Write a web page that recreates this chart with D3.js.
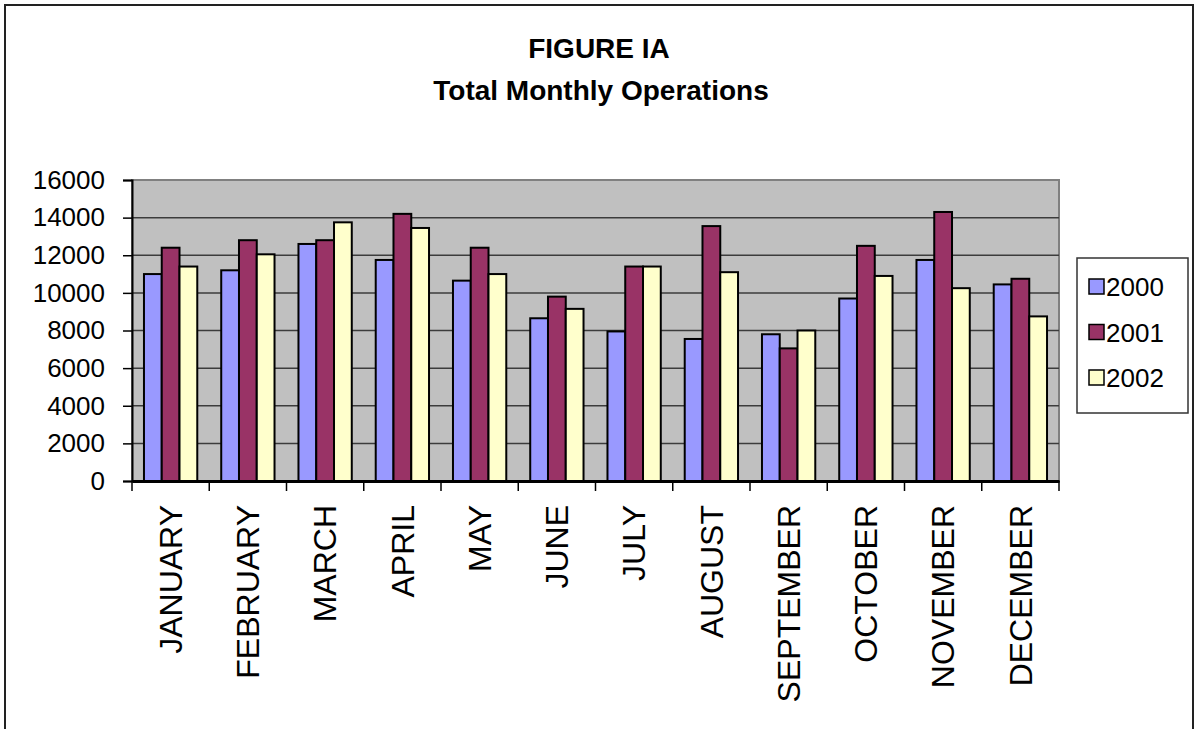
<!DOCTYPE html>
<html>
<head>
<meta charset="utf-8">
<script src="https://cdn.jsdelivr.net/npm/d3@7"></script>
<style>
  body { margin: 0; background: #fff; }
  text { font-family: "Liberation Sans", Arial, sans-serif; }
</style>
</head>
<body>
<div id="chart"></div>
<script>
// Chart data
const months = ["JANUARY", "FEBRUARY", "MARCH", "APRIL", "MAY", "JUNE",
                "JULY", "AUGUST", "SEPTEMBER", "OCTOBER", "NOVEMBER", "DECEMBER"];
const years = ["2000", "2001", "2002"];
const ops2000 = [11000, 11200, 12600, 11750, 10650, 8650, 7950, 7550, 7800, 9700, 11750, 10450];
const ops2001 = [12400, 12800, 12800, 14200, 12400, 9800, 11400, 13550, 7050, 12500, 14300, 10750];
const ops2002 = [11400, 12050, 13750, 13450, 11000, 9150, 11400, 11100, 8000, 10900, 10250, 8750];
const yTicks = [0, 2000, 4000, 6000, 8000, 10000, 12000, 14000, 16000];
const colors = ["#9999ff", "#993366", "#ffffcc"];

const series = [ops2000, ops2001, ops2002];
const data = [];
months.forEach((m, i) => {
    years.forEach((yr, j) => {
        data.push({ month: m, year: yr, value: series[j][i] });
    });
});

// Dimensions
const W = 1195, H = 729;
const margin = { top: 180, left: 132, right: 136, bottom: 248 };
const width = W - margin.left - margin.right;
const height = H - margin.top - margin.bottom;

const svg = d3.select("#chart")
    .append("svg")
    .attr("width", W)
    .attr("height", H);

// Outer chart border (bottom runs off the picture)
svg.append("rect")
    .attr("x", 5).attr("y", 5)
    .attr("width", 1188).attr("height", 760)
    .attr("fill", "#fff")
    .attr("stroke", "#222")
    .attr("stroke-width", 2);

// Title
svg.append("text")
    .attr("x", 599).attr("y", 58)
    .attr("text-anchor", "middle")
    .style("font-size", "28px")
    .style("font-weight", "bold")
    .text("FIGURE IA");

svg.append("text")
    .attr("x", 601).attr("y", 100)
    .attr("text-anchor", "middle")
    .style("font-size", "28px")
    .style("font-weight", "bold")
    .text("Total Monthly Operations");

const g = svg.append("g")
    .attr("transform", `translate(${margin.left},${margin.top})`);

// Scales
const x0 = d3.scaleBand()
    .domain(months)
    .range([0, width]);

const inset = x0.bandwidth() * 0.155;
const x1 = d3.scaleBand()
    .domain(years)
    .range([inset, x0.bandwidth() - inset]);

const y = d3.scaleLinear()
    .domain([0, 16000])
    .range([height, 0]);

const color = d3.scaleOrdinal()
    .domain(years)
    .range(colors);

// Plot area background
g.append("rect")
    .attr("width", width)
    .attr("height", height)
    .attr("fill", "#c0c0c0")
    .attr("stroke", "#808080")
    .attr("stroke-width", 2);

// Gridlines
g.selectAll(".grid")
    .data(yTicks.filter(t => t > 0 && t < 16000))
    .enter()
    .append("line")
    .attr("x1", 0).attr("x2", width)
    .attr("y1", d => y(d)).attr("y2", d => y(d))
    .attr("stroke", "#3c3c3c")
    .attr("stroke-width", 1.5);

// Bars
g.selectAll(".bar")
    .data(data)
    .enter()
    .append("rect")
    .attr("x", d => x0(d.month) + x1(d.year))
    .attr("y", d => y(d.value))
    .attr("width", x1.bandwidth())
    .attr("height", d => height - y(d.value))
    .attr("fill", d => color(d.year))
    .attr("stroke", "#000")
    .attr("stroke-width", 2);

// Y axis
const yAxis = g.append("g")
    .call(d3.axisLeft(y).tickValues(yTicks).tickSize(9).tickPadding(18).tickFormat(d3.format("d")));
yAxis.selectAll("text")
    .style("font-size", "26px")
    .attr("fill", "#000");
yAxis.selectAll("line").attr("stroke", "#000").attr("stroke-width", 1.5);
yAxis.select(".domain").attr("stroke", "#000").attr("stroke-width", 2);

// X axis with rotated labels
const xAxis = g.append("g")
    .attr("transform", `translate(0,${height})`)
    .call(d3.axisBottom(x0).tickSize(0));
xAxis.select(".domain").attr("stroke", "#000").attr("stroke-width", 3);
xAxis.selectAll("text")
    .style("font-size", "32px")
    .attr("fill", "#000")
    .attr("text-anchor", "end")
    .attr("transform", "rotate(-90)")
    .attr("x", -24)
    .attr("y", 0)
    .attr("dy", "0.35em");

// Tick marks between categories
g.selectAll(".xtick")
    .data(months.map(m => x0(m)).concat([width]))
    .enter()
    .append("line")
    .attr("x1", d => d).attr("x2", d => d)
    .attr("y1", height).attr("y2", height + 10)
    .attr("stroke", "#000")
    .attr("stroke-width", 1.5);

// Legend
const legend = svg.append("g")
    .attr("transform", "translate(1077,258)");

legend.append("rect")
    .attr("width", 111)
    .attr("height", 155)
    .attr("fill", "#fff")
    .attr("stroke", "#333")
    .attr("stroke-width", 1.5);

years.forEach((yr, i) => {
    legend.append("rect")
        .attr("x", 12)
        .attr("y", 21 + i * 45.5)
        .attr("width", 15)
        .attr("height", 15)
        .attr("fill", color(yr))
        .attr("stroke", "#000")
        .attr("stroke-width", 1.5);

    legend.append("text")
        .attr("x", 29)
        .attr("y", 29 + i * 45.5)
        .attr("dy", "0.35em")
        .style("font-size", "26px")
        .text(yr);
});
</script>
</body>
</html>
